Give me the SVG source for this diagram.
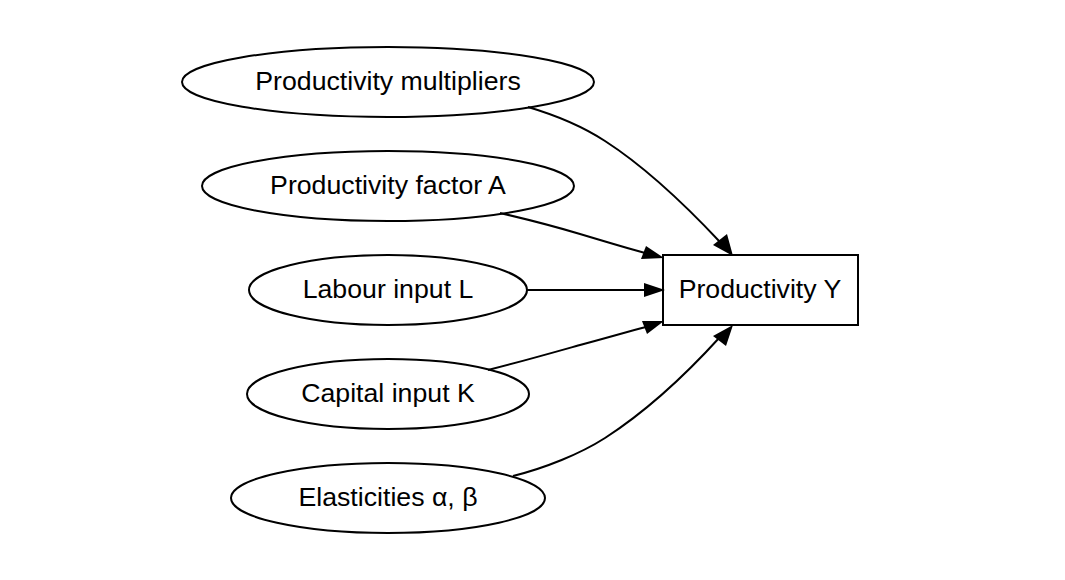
<svg xmlns="http://www.w3.org/2000/svg" width="1065" height="580" viewBox="0 0 1065 580">
<style>
.n{fill:none;stroke:#000;stroke-width:2}
.t{font-family:"Liberation Sans",Arial,sans-serif;font-size:26.7px;text-anchor:middle;dominant-baseline:central;fill:#000}
.e{fill:none;stroke:#000;stroke-width:2}
.h{fill:#000}
</style>
<rect width="1065" height="580" fill="#fff"/>
<g id="connectors">
<path class="e" d="M528,107 C555,115 585,128 605,141 C650,170 690,210 720,242"/>
<path class="h" d="M733,256 L713,245 L727,234 z"/>
<path class="e" d="M500,213 C530,220 560,228 580,234 C610,243 630,249 645,253"/>
<path class="h" d="M664,258 L641,259 L646,246 z"/>
<path class="e" d="M527,290 L645,290"/>
<path class="h" d="M665,290 L644,297 L644,283 z"/>
<path class="e" d="M488,370 C520,362 555,352 580,345 C610,337 630,331 646,327"/>
<path class="h" d="M664,321 L647,334 L642,321 z"/>
<path class="e" d="M513,476 C545,468 580,454 605,438 C650,409 690,370 720,337"/>
<path class="h" d="M733,325 L726,346 L713,336 z"/>
</g>
<g id="n1"><ellipse class="n" cx="388" cy="82" rx="206" ry="35"/><text class="t" x="388" y="80.5">Productivity multipliers</text></g>
<g id="n2"><ellipse class="n" cx="388" cy="186" rx="186" ry="35"/><text class="t" x="388" y="184.5">Productivity factor A</text></g>
<g id="n3"><ellipse class="n" cx="388" cy="290" rx="139" ry="35"/><text class="t" x="388" y="288.5">Labour input L</text></g>
<g id="n4"><ellipse class="n" cx="388" cy="394" rx="141" ry="35"/><text class="t" x="388" y="392.5">Capital input K</text></g>
<g id="n5"><ellipse class="n" cx="388" cy="498" rx="157" ry="35"/><text class="t" x="388" y="496.5">Elasticities α, β</text></g>
<g id="y"><rect class="n" x="663" y="255" width="195" height="70"/><text class="t" x="760" y="288.5">Productivity Y</text></g>
</svg>
